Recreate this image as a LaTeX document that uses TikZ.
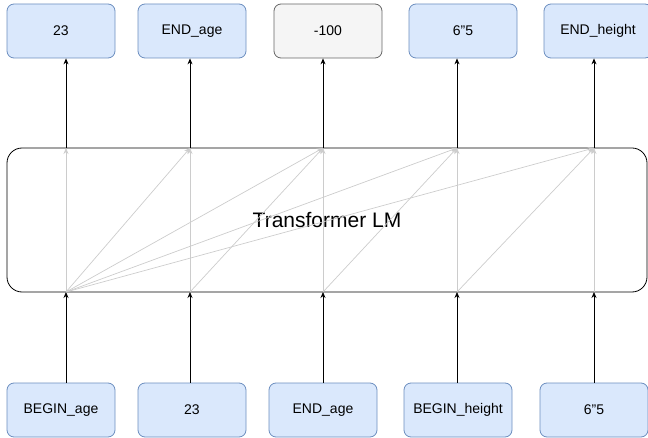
\documentclass[tikz,border=0pt]{standalone}
\usepackage{fontspec}
\setmainfont{Liberation Sans}
\usetikzlibrary{arrows.meta}

\definecolor{tokfill}{HTML}{DAE8FC}
\definecolor{tokdraw}{HTML}{6C8EBF}
\definecolor{maskfill}{HTML}{F5F5F5}
\definecolor{maskdraw}{HTML}{666666}
\definecolor{attn}{HTML}{CCCCCC}

\tikzset{
    token/.style={rectangle, rounded corners=7pt, draw=tokdraw, fill=tokfill, line width=0.8pt,
        minimum width=108pt, minimum height=54pt, font=\fontsize{14}{16}\selectfont},
    masked/.style={token, draw=maskdraw, fill=maskfill},
    flow/.style={-{Stealth[length=6pt,width=5pt]}, line width=0.8pt, black},
    attnflow/.style={-{Stealth[length=6pt,width=5pt]}, line width=0.7pt, attn}
}

\begin{document}
\begin{tikzpicture}[x=1pt, y=-1pt]
    \useasboundingbox (0,0) rectangle (648,438);

    % Transformer block
    \node[draw, rounded corners=15pt, line width=0.8pt, minimum width=640pt, minimum height=144pt,
        font=\fontsize{21}{24}\selectfont] (lm) at (327,220) {Transformer LM};

    % Input tokens (bottom row)
    \node[token] (in1) at (61,410) {BEGIN\_age};
    \node[token] (in2) at (192,410) {23};
    \node[token] (in3) at (323,410) {END\_age};
    \node[token] (in4) at (458,410) {BEGIN\_height};
    \node[token] (in5) at (594,410) {6"5};

    % Output tokens (top row)
    \node[token] (out1) at (61,31) {23};
    \node[token] (out2) at (192,31) {END\_age};
    \node[masked] (out3) at (328,31) {-100};
    \node[token] (out4) at (463,31) {6"5};
    \node[token] (out5) at (598,31) {END\_height};

    % Column positions on the block edges
    \foreach \i/\x in {1/66, 2/190, 3/323, 4/457, 5/594} {
        \coordinate (b\i) at (\x,292);
        \coordinate (t\i) at (\x,148);
    }

    % Inputs into the block, block into outputs
    \foreach \i in {1,...,5} {
        \draw[flow] (b\i |- in\i.north) -- (b\i);
        \draw[flow] (t\i) -- (t\i |- out\i.south);
    }

    % Attention paths inside the block
    \foreach \j in {1,...,5}
        \draw[attnflow] (b1) -- (t\j);
    \foreach \i/\j in {2/2, 2/3, 3/3, 3/4, 4/4, 4/5, 5/5}
        \draw[attnflow] (b\i) -- (t\j);
\end{tikzpicture}
\end{document}
